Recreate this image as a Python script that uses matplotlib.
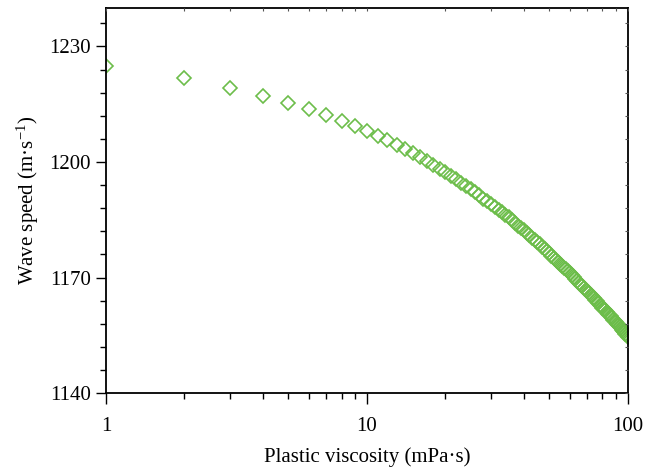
import matplotlib
matplotlib.use("Agg")
import matplotlib.pyplot as plt
from matplotlib.ticker import MultipleLocator, LogLocator, NullFormatter, FixedLocator

plt.rcParams['font.family'] = ['Liberation Serif', 'DejaVu Serif']
plt.rcParams['mathtext.fontset'] = 'custom'
plt.rcParams['mathtext.rm'] = 'Liberation Serif'
plt.rcParams['mathtext.default'] = 'rm'

# datos
viscosidad = list(range(1, 101))
velocidad = [
    1225.0, 1221.8, 1219.3, 1217.2, 1215.4, 1213.7, 1212.2, 1210.7, 1209.4, 1208.1,
    1206.8, 1205.6, 1204.4, 1203.3, 1202.3, 1201.2, 1200.2, 1199.2, 1198.2, 1197.3,
    1196.4, 1195.5, 1194.6, 1193.8, 1192.9, 1192.1, 1191.4, 1190.5, 1189.8, 1189.1,
    1188.4, 1187.6, 1186.9, 1186.2, 1185.6, 1184.9, 1184.2, 1183.5, 1182.9, 1182.3,
    1181.7, 1181.0, 1180.4, 1179.8, 1179.2, 1178.6, 1177.9, 1177.4, 1176.8, 1176.3,
    1175.7, 1175.2, 1174.6, 1174.1, 1173.6, 1173.0, 1172.5, 1172.1, 1171.6, 1171.1,
    1170.6, 1170.1, 1169.7, 1169.2, 1168.7, 1168.2, 1167.8, 1167.4, 1166.9, 1166.4,
    1166.0, 1165.6, 1165.2, 1164.7, 1164.3, 1163.9, 1163.5, 1163.0, 1162.7, 1162.2,
    1161.8, 1161.5, 1161.0, 1160.6, 1160.3, 1159.9, 1159.5, 1159.1, 1158.7, 1158.4,
    1158.0, 1157.6, 1157.3, 1156.9, 1156.5, 1156.1, 1155.8, 1155.4, 1155.0, 1154.6,
]
ticks_y = [1140, 1170, 1200, 1230]
ticks_x = [1, 10, 100]

verde = '#6cbd4a'

fig = plt.figure(figsize=(6.58, 4.68), dpi=100)
ax = fig.add_axes([0.161, 0.160, 0.793, 0.823])

ax.plot(viscosidad, velocidad, linestyle='none', marker='D', markersize=6.8,
        markerfacecolor='none', markeredgecolor=verde, markeredgewidth=1.2)

ax.set_xscale('log')
ax.set_xlim(1, 100)
ax.set_ylim(1140, 1240)
ax.xaxis.set_major_locator(FixedLocator(ticks_x))
ax.set_xticklabels([str(t) for t in ticks_x])
ax.xaxis.set_minor_locator(LogLocator(base=10, subs=range(2, 10)))
ax.xaxis.set_minor_formatter(NullFormatter())
ax.set_yticks(ticks_y)
ax.yaxis.set_minor_locator(MultipleLocator(6))

ax.tick_params(which='major', direction='out', length=7, width=1, labelsize=15,
               top=False, right=False, pad=4)
ax.tick_params(axis='x', which='major', length=8, pad=9)
ax.tick_params(which='minor', direction='out', length=4, width=1,
               top=False, right=False)
for s in ax.spines.values():
    s.set_linewidth(1.3)

# marcas interiores arriba y a la derecha
axt = ax.twiny()
axt.set_xscale('log')
axt.set_xlim(1, 100)
axt.xaxis.set_minor_locator(LogLocator(base=10, subs=range(2, 10)))
axt.tick_params(which='both', direction='in', length=2.5, width=0.8,
                labeltop=False, colors='#555555')
axr = ax.twinx()
axr.set_ylim(1140, 1240)
axr.yaxis.set_major_locator(MultipleLocator(6))
axr.tick_params(which='both', direction='in', length=2.5, width=0.8,
                labelright=False, colors='#555555')
for a in (axt, axr):
    for s in a.spines.values():
        s.set_visible(False)

ax.set_xlabel('Plastic viscosity (mPa·s)', fontsize=15, labelpad=8)
ax.set_ylabel('Wave speed (m·s$^{-1}$)', fontsize=15, labelpad=6)

fig.savefig('out.png', dpi=100)
